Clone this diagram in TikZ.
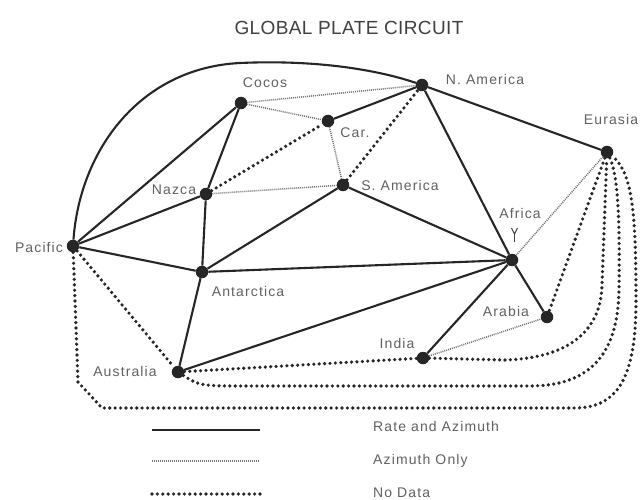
\documentclass[tikz,border=0pt]{standalone}
\usepackage{fontspec}
\newfontfamily\labelfont[LetterSpace=8]{Liberation Sans}
\newfontfamily\titlefont[LetterSpace=2]{Liberation Sans}
\begin{document}
\begin{tikzpicture}[x=1pt,y=-1pt,
  plate/.style={circle,fill=black!85,inner sep=0pt,minimum size=12.5pt},
  rate/.style={line width=2.1pt,draw=black!85},
  azim/.style={line width=1.5pt,dash pattern=on 1pt off 1pt,draw=black!55},
  nodata/.style={line width=3.6pt,line cap=round,dash pattern=on 0pt off 5.4pt,draw=black!85},
  lbl/.style={text=black!62,font=\labelfont\fontsize{14}{16}\selectfont,inner sep=0pt}]
\useasboundingbox (0,0) rectangle (643,500);
\fill[white] (0,0) rectangle (643,500);

\node[text=black!75,font=\titlefont\fontsize{19}{22}\selectfont] (title) at (349,28) {GLOBAL PLATE CIRCUIT};

% plates
\node[plate] (coc) at (241,103) {};
\node[plate] (nam) at (422,85) {};
\node[plate] (car) at (328,121) {};
\node[plate] (naz) at (206,194) {};
\node[plate] (sam) at (343,185) {};
\node[plate] (eur) at (607,152) {};
\node[plate] (pac) at (73,246) {};
\node[plate] (ant) at (202,272) {};
\node[plate] (afr) at (512,260) {};
\node[plate] (ara) at (547,317) {};
\node[plate] (ind) at (423,358) {};
\node[plate] (aus) at (178,372) {};

% labels
\node[lbl] (lcoc) at (265,83) {Cocos};
\node[lbl] (lnam) at (485,79) {N. America};
\node[lbl] (lcar) at (355,133) {Car.};
\node[lbl] (lnaz) at (174,190) {Nazca};
\node[lbl] (lsam) at (400,185) {S. America};
\node[lbl] (leur) at (611,119) {Eurasia};
\node[lbl] (lpac) at (39,247) {Pacific};
\node[lbl] (lant) at (248,291) {Antarctica};
\node[lbl] (lafr) at (520,213) {Africa};
\node[lbl] (lara) at (506,311) {Arabia};
\node[lbl] (lind) at (397,343) {India};
\node[lbl] (laus) at (125,371) {Australia};

% Africa tick mark
\draw[line width=1pt,black!75] (511.5,228) -- (514.5,234) -- (517.5,228);
\draw[line width=1.3pt,black!75] (514.5,234) -- (514.5,242);

% rate and azimuth
\draw[rate] (pac) -- (coc);
\draw[rate] (pac) -- (naz);
\draw[rate] (pac) -- (ant);
\draw[rate] (pac) .. controls (80,150) and (140,68) .. (240,63) .. controls (330,59) and (390,74) .. (nam);
\draw[rate] (coc) -- (naz);
\draw[rate] (naz) -- (ant);
\draw[rate] (car) -- (nam);
\draw[rate] (nam) -- (afr);
\draw[rate] (nam) -- (eur);
\draw[rate] (sam) -- (ant);
\draw[rate] (sam) -- (afr);
\draw[rate] (ant) -- (afr);
\draw[rate] (ant) -- (aus);
\draw[rate] (aus) -- (afr);
\draw[rate] (afr) -- (ind);
\draw[rate] (afr) -- (ara);

% azimuth only
\draw[azim] (coc) -- (nam);
\draw[azim] (coc) -- (car);
\draw[azim] (car) -- (sam);
\draw[azim] (naz) -- (sam);
\draw[azim] (afr) -- (eur);
\draw[azim] (ind) -- (ara);

% no data
\draw[nodata] (naz) -- (car);
\draw[nodata] (sam) -- (nam);
\draw[nodata] (pac) -- (aus);
\draw[nodata] (eur) -- (ara);
\draw[nodata] (aus) -- (ind);
\draw[nodata] (ind) -- (505,360) .. controls (570,358) and (601,330) .. (602,285) -- (eur);
\draw[nodata] (aus) .. controls (200,386) .. (250,386) -- (530,386) .. controls (598,386) and (618,345) .. (619,290) .. controls (620,220) and (618,175) .. (eur);
\draw[nodata] (pac) -- (78,382) -- (102,408) -- (575,408) .. controls (622,408) and (636,370) .. (636,300) .. controls (636,210) and (632,172) .. (eur);

% legend
\coordinate (k1a) at (152,430); \coordinate (k1b) at (260,430);
\coordinate (k2a) at (152,461); \coordinate (k2b) at (260,461);
\coordinate (k3a) at (152,494); \coordinate (k3b) at (260,494);
\draw[rate] (k1a) -- (k1b);
\draw[azim] (k2a) -- (k2b);
\draw[nodata] (k3a) -- (k3b);
\node[lbl,anchor=west] (t1) at (373,426) {Rate and Azimuth};
\node[lbl,anchor=west] (t2) at (373,461) {Azimuth Only};
\node[lbl,anchor=west] (t3) at (373,493) {No Data};
\end{tikzpicture}
\end{document}
